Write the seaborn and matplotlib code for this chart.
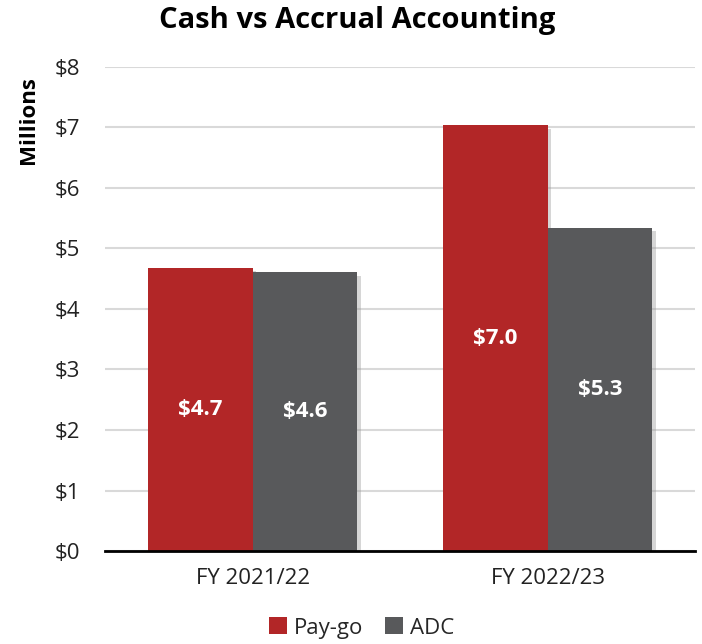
import matplotlib
matplotlib.use("Agg")
import matplotlib.pyplot as plt
import matplotlib.patheffects as pe
from matplotlib.patches import Patch
import pandas as pd
import seaborn as sns

# chart data
years = ["FY 2021/22", "FY 2022/23"]
paygo = [4.68, 7.04]
adc = [4.61, 5.34]
paygo_labels = ["$4.7", "$7.0"]
adc_labels = ["$4.6", "$5.3"]
series = ["Pay-go", "ADC"]
colors = ["#B22627", "#58595B"]

df = pd.DataFrame({
    "year": years * 2,
    "series": [series[0]] * 2 + [series[1]] * 2,
    "value": paygo + adc,
})

sns.set_theme(style="white")
plt.rcParams["font.family"] = ["Open Sans", "DejaVu Sans"]

fig = plt.figure(figsize=(7.02, 6.44), dpi=100)
ax = fig.add_axes([0.15, 0.1444, 0.84, 0.7516])

sns.barplot(
    data=df, x="year", y="value", hue="series",
    palette=colors, width=0.71, saturation=1, ax=ax, legend=False,
)

# soft drop shadow on the bars
for bar in ax.patches:
    bar.set_linewidth(0)
    bar.set_path_effects([
        pe.SimplePatchShadow(offset=(2.5, -2.5), shadow_rgbFace="#999999", alpha=0.4),
        pe.Normal(),
    ])

for container, labels in zip(ax.containers, [paygo_labels, adc_labels]):
    ax.bar_label(container, labels=labels, label_type="center",
                 color="white", fontsize=16, fontweight="bold")

ax.set_ylim(0, 8)
ax.set_xlim(-0.5, 1.5)
ax.set_yticks(range(0, 9))
ax.set_yticklabels([f"${v}" for v in range(0, 9)])
ax.yaxis.grid(True, color="#d9d9d9", linewidth=1.5)
ax.set_axisbelow(True)
for s in ["left", "right", "top"]:
    ax.spines[s].set_visible(False)
ax.spines["bottom"].set_color("black")
ax.spines["bottom"].set_linewidth(2)
ax.spines["bottom"].set_zorder(5)
ax.tick_params(axis="y", length=0, pad=18, labelsize=16, colors="#222222")
ax.tick_params(axis="x", length=0, pad=12, labelsize=16, colors="#222222")

ax.set_xlabel("")
ax.set_ylabel("Millions", fontsize=16, fontweight="bold", color="black")
ax.yaxis.set_label_coords(-0.112, 0.89)

fig.suptitle("Cash vs Accrual Accounting", x=0.509, y=0.99,
             fontsize=21, fontweight="bold", color="black")

handles = [Patch(facecolor=c, edgecolor="none", label=s) for c, s in zip(colors, series)]
fig.legend(handles=handles, loc="center", bbox_to_anchor=(0.515, 0.025), ncol=2,
           frameon=False, fontsize=16, handlelength=0.8, handleheight=0.8,
           handletextpad=0.3, columnspacing=1.0)

fig.savefig("out.png", dpi=100)
